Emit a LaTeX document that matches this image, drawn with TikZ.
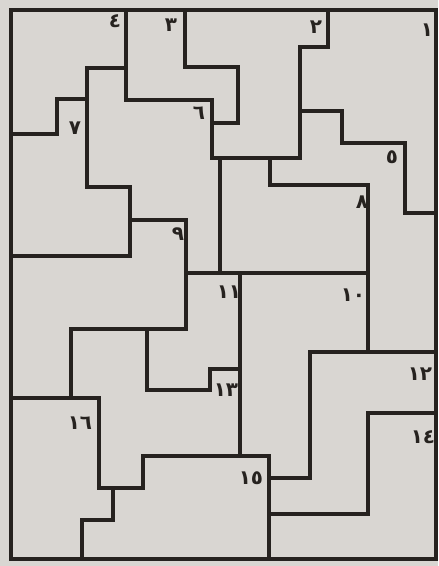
\documentclass[tikz,border=0pt]{standalone}
\usepackage{fontspec}
\newfontfamily\arabicfont[Script=Arabic]{DejaVu Sans}
\usepackage{xcolor}
\definecolor{paper}{RGB}{217,214,210}
\definecolor{ink}{RGB}{38,34,31}

\begin{document}
\begin{tikzpicture}[
    x=0.03cm, y=-0.03cm,
    wall/.style={
        draw=ink,
        line width=2.6pt,
        line join=miter,
        line cap=rect
    },
    num/.style={
        inner sep=0pt,
        text=ink,
        font=\arabicfont\bfseries\fontsize{17}{17}\selectfont
    }
]

% paper and frame
\useasboundingbox (0,0) rectangle (438,566);
\fill[paper] (0,0) rectangle (438,566);
\draw[wall] (11,10) rectangle (436,559);

% region borders, top part
\draw[wall] (11,134) -- (57,134) -- (57,99) -- (87,99);
\draw[wall] (126,68) -- (87,68) -- (87,187) -- (130,187) -- (130,256) -- (11,256);
\draw[wall] (126,10) -- (126,100) -- (212,100) -- (212,158) -- (300,158) -- (300,47) -- (328,47) -- (328,10);
\draw[wall] (185,10) -- (185,67) -- (238,67) -- (238,123) -- (212,123);
\draw[wall] (300,111) -- (342,111) -- (342,143) -- (405,143) -- (405,213) -- (436,213);
\draw[wall] (220,158) -- (220,273);
\draw[wall] (270,158) -- (270,185) -- (368,185) -- (368,352) -- (436,352);

% middle part
\draw[wall] (130,220) -- (186,220) -- (186,329) -- (71,329) -- (71,398) -- (11,398);
\draw[wall] (71,398) -- (99,398);
\draw[wall] (186,273) -- (368,273);
\draw[wall] (147,329) -- (147,390) -- (210,390) -- (210,369) -- (240,369);
\draw[wall] (368,352) -- (310,352) -- (310,478) -- (269,478);

% bottom part
\draw[wall] (240,273) -- (240,456) -- (143,456) -- (143,488) -- (99,488) -- (99,398);
\draw[wall] (240,456) -- (269,456) -- (269,559);
\draw[wall] (113,488) -- (113,520) -- (82,520) -- (82,559);
\draw[wall] (269,514) -- (368,514) -- (368,413) -- (436,413);

% numbers
\node[num] (n1) at (427,30) {١};
\node[num] (n2) at (316,27) {٢};
\node[num] (n3) at (171,25) {٣};
\node[num] (n4) at (115,21) {٤};
\node[num] (n5) at (392,157) {٥};
\node[num] (n6) at (199,113) {٦};
\node[num] (n7) at (75,128) {٧};
\node[num] (n8) at (362,202) {٨};
\node[num] (n9) at (178,234) {٩};
\node[num] (n10) at (353,295) {١٠};
\node[num] (n11) at (229,292) {١١};
\node[num] (n12) at (420,374) {١٢};
\node[num] (n13) at (226,390) {١٣};
\node[num] (n14) at (423,437) {١٤};
\node[num] (n15) at (251,478) {١٥};
\node[num] (n16) at (80,423) {١٦};

\end{tikzpicture}
\end{document}
